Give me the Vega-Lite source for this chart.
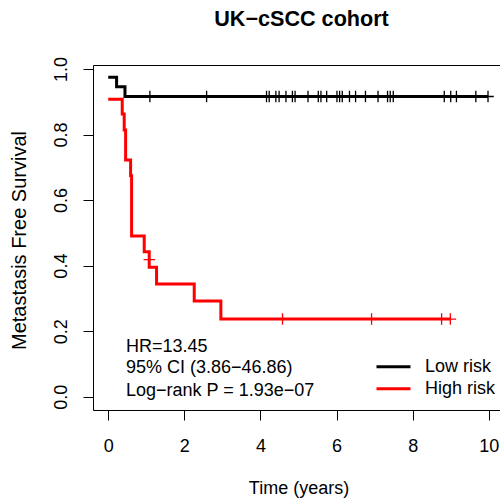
{
  "$schema": "https://vega.github.io/schema/vega-lite/v6.json",
  "autosize": {"type": "none"},
  "padding": {"left": 93, "top": 65, "right": 0, "bottom": 88},
  "width": 411,
  "height": 345,
  "background": "white",
  "title": {
    "text": "UK−cSCC cohort",
    "font": "Liberation Sans",
    "fontSize": 21.6,
    "fontWeight": "bold",
    "color": "black",
    "anchor": "middle",
    "offset": 26,
    "dx": 3
  },
  "config": {
    "view": {"stroke": "black", "strokeWidth": 1},
    "font": "Liberation Sans",
    "axis": {
      "grid": false,
      "domain": false,
      "tickSize": 10,
      "tickColor": "black",
      "tickWidth": 1,
      "labelFont": "Liberation Sans",
      "labelFontSize": 18,
      "labelColor": "black",
      "titleFont": "Liberation Sans",
      "titleFontWeight": "normal",
      "titleColor": "black"
    }
  },
  "datasets": {
    "curves": [
      {"group": "Low risk", "time": 0, "surv": 0.975},
      {"group": "Low risk", "time": 0.22, "surv": 0.946},
      {"group": "Low risk", "time": 0.44, "surv": 0.916},
      {"group": "Low risk", "time": 9.98, "surv": 0.916},
      {"group": "High risk", "time": 0, "surv": 0.908},
      {"group": "High risk", "time": 0.368, "surv": 0.863},
      {"group": "High risk", "time": 0.42, "surv": 0.814},
      {"group": "High risk", "time": 0.457, "surv": 0.722},
      {"group": "High risk", "time": 0.588, "surv": 0.674},
      {"group": "High risk", "time": 0.614, "surv": 0.49},
      {"group": "High risk", "time": 0.946, "surv": 0.442},
      {"group": "High risk", "time": 1.077, "surv": 0.395},
      {"group": "High risk", "time": 1.27, "surv": 0.344},
      {"group": "High risk", "time": 2.26, "surv": 0.292},
      {"group": "High risk", "time": 2.96, "surv": 0.237},
      {"group": "High risk", "time": 8.99, "surv": 0.237}
    ],
    "censor": [
      {"group": "Low risk", "time": 1.095, "surv": 0.916},
      {"group": "Low risk", "time": 2.585, "surv": 0.916},
      {"group": "Low risk", "time": 4.16, "surv": 0.916},
      {"group": "Low risk", "time": 4.23, "surv": 0.916},
      {"group": "Low risk", "time": 4.405, "surv": 0.916},
      {"group": "Low risk", "time": 4.49, "surv": 0.916},
      {"group": "Low risk", "time": 4.67, "surv": 0.916},
      {"group": "Low risk", "time": 4.84, "surv": 0.916},
      {"group": "Low risk", "time": 4.91, "surv": 0.916},
      {"group": "Low risk", "time": 5.25, "surv": 0.916},
      {"group": "Low risk", "time": 5.52, "surv": 0.916},
      {"group": "Low risk", "time": 5.59, "surv": 0.916},
      {"group": "Low risk", "time": 5.74, "surv": 0.916},
      {"group": "Low risk", "time": 6.01, "surv": 0.916},
      {"group": "Low risk", "time": 6.08, "surv": 0.916},
      {"group": "Low risk", "time": 6.15, "surv": 0.916},
      {"group": "Low risk", "time": 6.34, "surv": 0.916},
      {"group": "Low risk", "time": 6.5, "surv": 0.916},
      {"group": "Low risk", "time": 6.76, "surv": 0.916},
      {"group": "Low risk", "time": 7.09, "surv": 0.916},
      {"group": "Low risk", "time": 7.34, "surv": 0.916},
      {"group": "Low risk", "time": 7.41, "surv": 0.916},
      {"group": "Low risk", "time": 7.49, "surv": 0.916},
      {"group": "Low risk", "time": 8.83, "surv": 0.916},
      {"group": "Low risk", "time": 9.0, "surv": 0.916},
      {"group": "Low risk", "time": 9.15, "surv": 0.916},
      {"group": "Low risk", "time": 9.66, "surv": 0.916},
      {"group": "Low risk", "time": 9.98, "surv": 0.916},
      {"group": "High risk", "time": 1.08, "surv": 0.418},
      {"group": "High risk", "time": 4.58, "surv": 0.237},
      {"group": "High risk", "time": 6.92, "surv": 0.237},
      {"group": "High risk", "time": 8.76, "surv": 0.237},
      {"group": "High risk", "time": 8.99, "surv": 0.237}
    ],
    "notes": [
      {"label": "HR=13.45", "time": 0.465, "surv": 0.1373},
      {"label": "95% CI (3.86−46.86)", "time": 0.465, "surv": 0.0714},
      {"label": "Log−rank P = 1.93e−07", "time": 0.465, "surv": 0.0021}
    ]
  },
  "layer": [
    {
      "data": {"name": "curves"},
      "mark": {"type": "line", "interpolate": "step-after", "strokeWidth": 3, "strokeCap": "butt", "strokeJoin": "miter"},
      "encoding": {
        "x": {
          "field": "time", "type": "quantitative",
          "scale": {"domain": [-0.4, 10.4], "nice": false, "zero": false},
          "axis": {
            "values": [0, 2, 4, 6, 8, 10],
            "title": "Time (years)",
            "labelBaseline": "alphabetic",
            "labelPadding": 31,
            "labelAlign": "center",
            "titleFontSize": 18,
            "titleBaseline": "alphabetic",
            "titleY": 83
          }
        },
        "y": {
          "field": "surv", "type": "quantitative",
          "scale": {"domain": [-0.0406, 1.0122], "nice": false, "zero": false},
          "axis": {
            "values": [0, 0.2, 0.4, 0.6, 0.8, 1.0],
            "format": ".1f",
            "labelAngle": 270,
            "labelAlign": "center",
            "labelBaseline": "alphabetic",
            "labelPadding": 17,
            "title": "Metastasis Free Survival",
            "titleFontSize": 20,
            "titleAngle": 270,
            "titleAlign": "center",
            "titleBaseline": "alphabetic",
            "titleX": -68,
            "titleY": 175
          }
        },
        "color": {
          "field": "group", "type": "nominal",
          "scale": {"domain": ["Low risk", "High risk"], "range": ["#000000", "#ff0000"]},
          "legend": {
            "title": null,
            "orient": "none",
            "legendX": 282,
            "legendY": 291,
            "symbolType": "stroke",
            "symbolSize": 1156,
            "symbolStrokeWidth": 3,
            "clipHeight": 21.3,
            "rowPadding": 0,
            "padding": 0,
            "labelFont": "Liberation Sans",
            "labelFontSize": 18,
            "labelColor": "black",
            "labelOffset": 13
          }
        }
      }
    },
    {
      "data": {"name": "censor"},
      "mark": {"type": "point", "shape": "M-1,0L1,0M0,-1L0,1", "filled": false, "size": 132, "strokeWidth": 1.3, "opacity": 1},
      "encoding": {
        "x": {"field": "time", "type": "quantitative"},
        "y": {"field": "surv", "type": "quantitative"},
        "stroke": {
          "field": "group", "type": "nominal",
          "scale": {"domain": ["Low risk", "High risk"], "range": ["#000000", "#ff0000"]},
          "legend": null
        }
      }
    },
    {
      "data": {"name": "notes"},
      "mark": {"type": "text", "align": "left", "baseline": "alphabetic", "font": "Liberation Sans", "fontSize": 18, "color": "black"},
      "encoding": {
        "x": {"field": "time", "type": "quantitative"},
        "y": {"field": "surv", "type": "quantitative"},
        "text": {"field": "label"}
      }
    }
  ]
}
